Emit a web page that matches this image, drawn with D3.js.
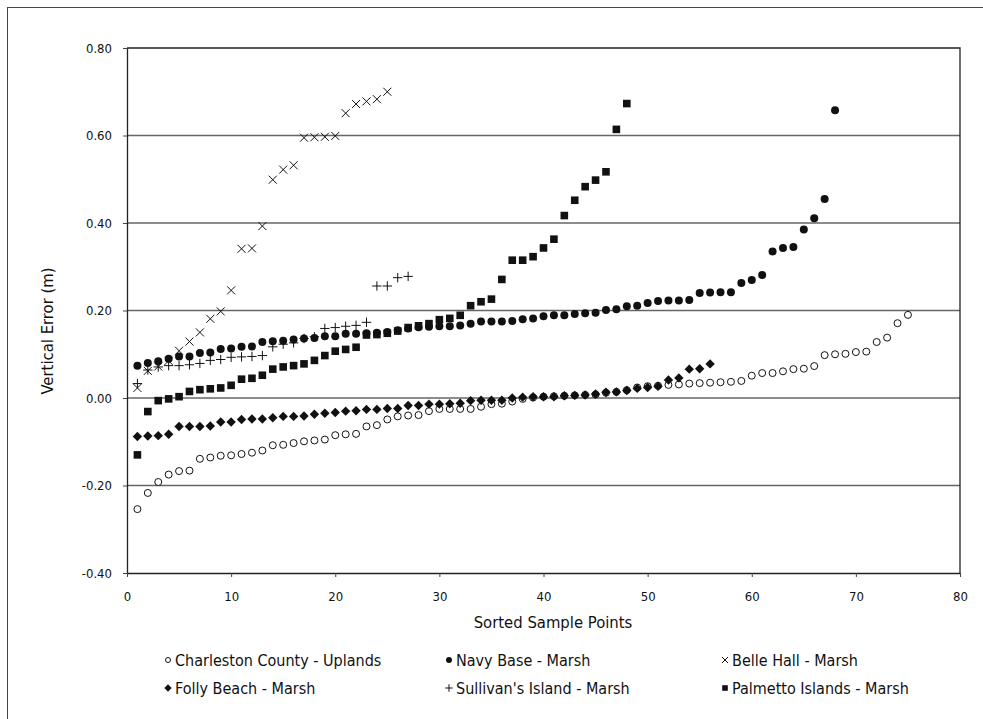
<!DOCTYPE html>
<html>
<head>
<meta charset="utf-8">
<script src="https://cdn.jsdelivr.net/npm/d3@7"></script>
<style>
  body { margin: 0; background: #fff; }
  text { font-family: "DejaVu Sans Condensed", "DejaVu Sans", sans-serif; font-stretch: condensed; fill: #111; }
</style>
</head>
<body>
<div id="chart"></div>
<script>
// vertical error values, sorted, one list per site (x = 1..n)
var charleston = [-0.254,-0.217,-0.192,-0.175,-0.167,-0.166,-0.139,-0.136,-0.132,-0.131,
  -0.128,-0.125,-0.120,-0.108,-0.107,-0.103,-0.099,-0.097,-0.095,-0.085,
  -0.083,-0.082,-0.065,-0.062,-0.049,-0.042,-0.040,-0.039,-0.030,-0.025,
  -0.025,-0.025,-0.025,-0.020,-0.014,-0.013,-0.008,-0.002,0.001,0.003,
  0.004,0.005,0.006,0.007,0.008,0.012,0.014,0.018,0.024,0.027,
  0.028,0.030,0.031,0.033,0.034,0.035,0.036,0.037,0.039,0.051,
  0.057,0.057,0.061,0.066,0.067,0.073,0.098,0.100,0.101,0.105,
  0.106,0.128,0.138,0.171,0.190];
var navyBase = [0.074,0.080,0.084,0.090,0.095,0.095,0.103,0.104,0.112,0.113,
  0.117,0.118,0.128,0.130,0.131,0.134,0.136,0.137,0.141,0.141,
  0.147,0.147,0.148,0.149,0.151,0.155,0.159,0.162,0.163,0.164,
  0.164,0.166,0.170,0.175,0.175,0.175,0.176,0.180,0.182,0.187,
  0.189,0.189,0.192,0.194,0.195,0.201,0.203,0.210,0.211,0.217,
  0.222,0.223,0.223,0.224,0.240,0.241,0.242,0.242,0.263,0.270,
  0.281,0.335,0.343,0.345,0.385,0.411,0.455,0.658];
var belleHall = [0.023,0.062,0.072,0.085,0.108,0.129,0.150,0.181,0.198,0.246,
  0.341,0.342,0.393,0.499,0.522,0.532,0.595,0.596,0.597,0.599,
  0.651,0.672,0.678,0.683,0.700];
var follyBeach = [-0.088,-0.087,-0.086,-0.083,-0.065,-0.065,-0.065,-0.064,-0.055,-0.055,
  -0.049,-0.048,-0.048,-0.045,-0.042,-0.042,-0.041,-0.037,-0.035,-0.033,
  -0.030,-0.029,-0.026,-0.026,-0.024,-0.024,-0.017,-0.017,-0.014,-0.014,
  -0.013,-0.012,-0.006,-0.005,-0.005,-0.005,0.000,0.002,0.003,0.003,
  0.003,0.005,0.006,0.007,0.009,0.013,0.014,0.017,0.022,0.024,
  0.027,0.041,0.046,0.066,0.067,0.078];
var sullivans = [0.033,0.064,0.071,0.074,0.074,0.076,0.079,0.086,0.088,0.093,
  0.094,0.095,0.097,0.117,0.123,0.126,0.136,0.140,0.159,0.161,
  0.164,0.166,0.173,0.256,0.256,0.275,0.278];
var palmetto = [-0.130,-0.031,-0.006,-0.002,0.003,0.015,0.019,0.021,0.023,0.029,
  0.043,0.045,0.052,0.066,0.071,0.074,0.078,0.086,0.097,0.107,
  0.111,0.116,0.144,0.145,0.148,0.153,0.161,0.165,0.170,0.179,
  0.182,0.189,0.211,0.220,0.226,0.271,0.315,0.315,0.323,0.343,
  0.363,0.417,0.452,0.483,0.498,0.517,0.614,0.673];

var seriesNames = ["Charleston County - Uplands", "Navy Base - Marsh", "Belle Hall - Marsh",
                   "Folly Beach - Marsh", "Sullivan's Island - Marsh", "Palmetto Islands - Marsh"];
var seriesValues = [charleston, navyBase, belleHall, follyBeach, sullivans, palmetto];
var seriesMarkers = ["openCircle", "circle", "times", "diamond", "plus", "square"];

var yTicks = [-0.40, -0.20, 0.00, 0.20, 0.40, 0.60, 0.80];
var xTicks = [0, 10, 20, 30, 40, 50, 60, 70, 80];

// chart size
var W = 983, H = 719;
var margin = {top: 48, right: 23, bottom: 146, left: 127},
    width = W - margin.left - margin.right,
    height = H - margin.top - margin.bottom;

var root = d3.select("#chart")
  .append("svg")
    .attr("width", W)
    .attr("height", H);

// outer frame (runs off the right and bottom edges)
root.append("rect")
  .attr("x", 7.5).attr("y", 7.5)
  .attr("width", W + 20).attr("height", H + 20)
  .attr("fill", "none")
  .attr("stroke", "#444")
  .attr("stroke-width", 1);

var svg = root.append("g")
  .attr("transform", "translate(" + margin.left + "," + margin.top + ")");

var x = d3.scaleLinear().domain([0, 80]).range([0, width]);
var y = d3.scaleLinear().domain([-0.4, 0.8]).range([height, 0]);

// gridlines
svg.append("g")
  .selectAll("line")
  .data(yTicks.filter(function(d) { return d > -0.4 && d < 0.8; }))
  .enter()
  .append("line")
    .attr("x1", 0).attr("x2", width)
    .attr("y1", function(d) { return y(d); })
    .attr("y2", function(d) { return y(d); })
    .attr("stroke", "#666")
    .attr("stroke-width", 1.3);

// plot border top / right
svg.append("path")
  .attr("d", "M0,0H" + width + "V" + height)
  .attr("fill", "none")
  .attr("stroke", "#222")
  .attr("stroke-width", 1.3);

// axes
var yAxis = svg.append("g")
  .call(d3.axisLeft(y).tickValues(yTicks).tickSize(4).tickSizeOuter(0).tickPadding(11)
    .tickFormat(function(d) { return d.toFixed(2); }));
var xAxis = svg.append("g")
  .attr("transform", "translate(0," + height + ")")
  .call(d3.axisBottom(x).tickValues(xTicks).tickSize(4).tickSizeOuter(0).tickPadding(15));

[yAxis, xAxis].forEach(function(a) {
  a.select(".domain").attr("stroke", "#222").attr("stroke-width", 1.3);
  a.selectAll(".tick line").attr("stroke", "#444");
  a.selectAll(".tick text").style("font-size", "13px").attr("fill", "#111");
});

// axis titles
svg.append("text")
  .attr("text-anchor", "middle")
  .attr("transform", "translate(" + (47 - margin.left) + "," + (331 - margin.top) + ") rotate(-90)")
  .attr("dy", "0.35em")
  .style("font-size", "16.5px")
  .text("Vertical Error (m)");

svg.append("text")
  .attr("text-anchor", "middle")
  .attr("x", 553 - margin.left)
  .attr("y", 622 - margin.top)
  .attr("dy", "0.35em")
  .style("font-size", "16.5px")
  .text("Sorted Sample Points");

// marker drawing
function drawMarker(sel, type, s) {
  var h = s / 2;
  if (type === "openCircle") {
    sel.append("circle").attr("r", h).attr("fill", "#fff").attr("stroke", "#111").attr("stroke-width", 1);
  } else if (type === "circle") {
    sel.append("circle").attr("r", h + 0.5).attr("fill", "#111");
  } else if (type === "square") {
    sel.append("rect").attr("x", -h - 0.3).attr("y", -h - 0.3).attr("width", s + 0.6).attr("height", s + 0.6).attr("fill", "#111");
  } else if (type === "diamond") {
    var d = h + 1.2;
    sel.append("path").attr("d", "M0," + (-d) + "L" + d + ",0L0," + d + "L" + (-d) + ",0Z").attr("fill", "#111");
  } else if (type === "plus") {
    var p = h + 1.2;
    sel.append("path").attr("d", "M" + (-p) + ",0H" + p + "M0," + (-p) + "V" + p)
      .attr("stroke", "#111").attr("stroke-width", 1).attr("fill", "none");
  } else if (type === "times") {
    var t = h + 0.5;
    sel.append("path").attr("d", "M" + (-t) + "," + (-t) + "L" + t + "," + t + "M" + (-t) + "," + t + "L" + t + "," + (-t))
      .attr("stroke", "#111").attr("stroke-width", 1).attr("fill", "none");
  }
}

// points
seriesValues.forEach(function(vals, i) {
  var g = svg.append("g");
  g.selectAll("g")
    .data(vals)
    .enter()
    .append("g")
      .attr("transform", function(d, j) { return "translate(" + x(j + 1) + "," + y(d) + ")"; })
      .each(function() { drawMarker(d3.select(this), seriesMarkers[i], 7); });
});

// legend, 3 columns x 2 rows
var legendCols = [168, 449, 725], legendRows = [660, 688];
seriesNames.forEach(function(name, i) {
  var lx = legendCols[i % 3], ly = legendRows[Math.floor(i / 3)];
  var item = root.append("g").attr("transform", "translate(" + lx + "," + ly + ")");
  drawMarker(item, seriesMarkers[i], 5);
  item.append("text")
    .attr("x", 7)
    .attr("dy", "0.35em")
    .style("font-size", "16px")
    .text(name);
});
</script>
</body>
</html>
